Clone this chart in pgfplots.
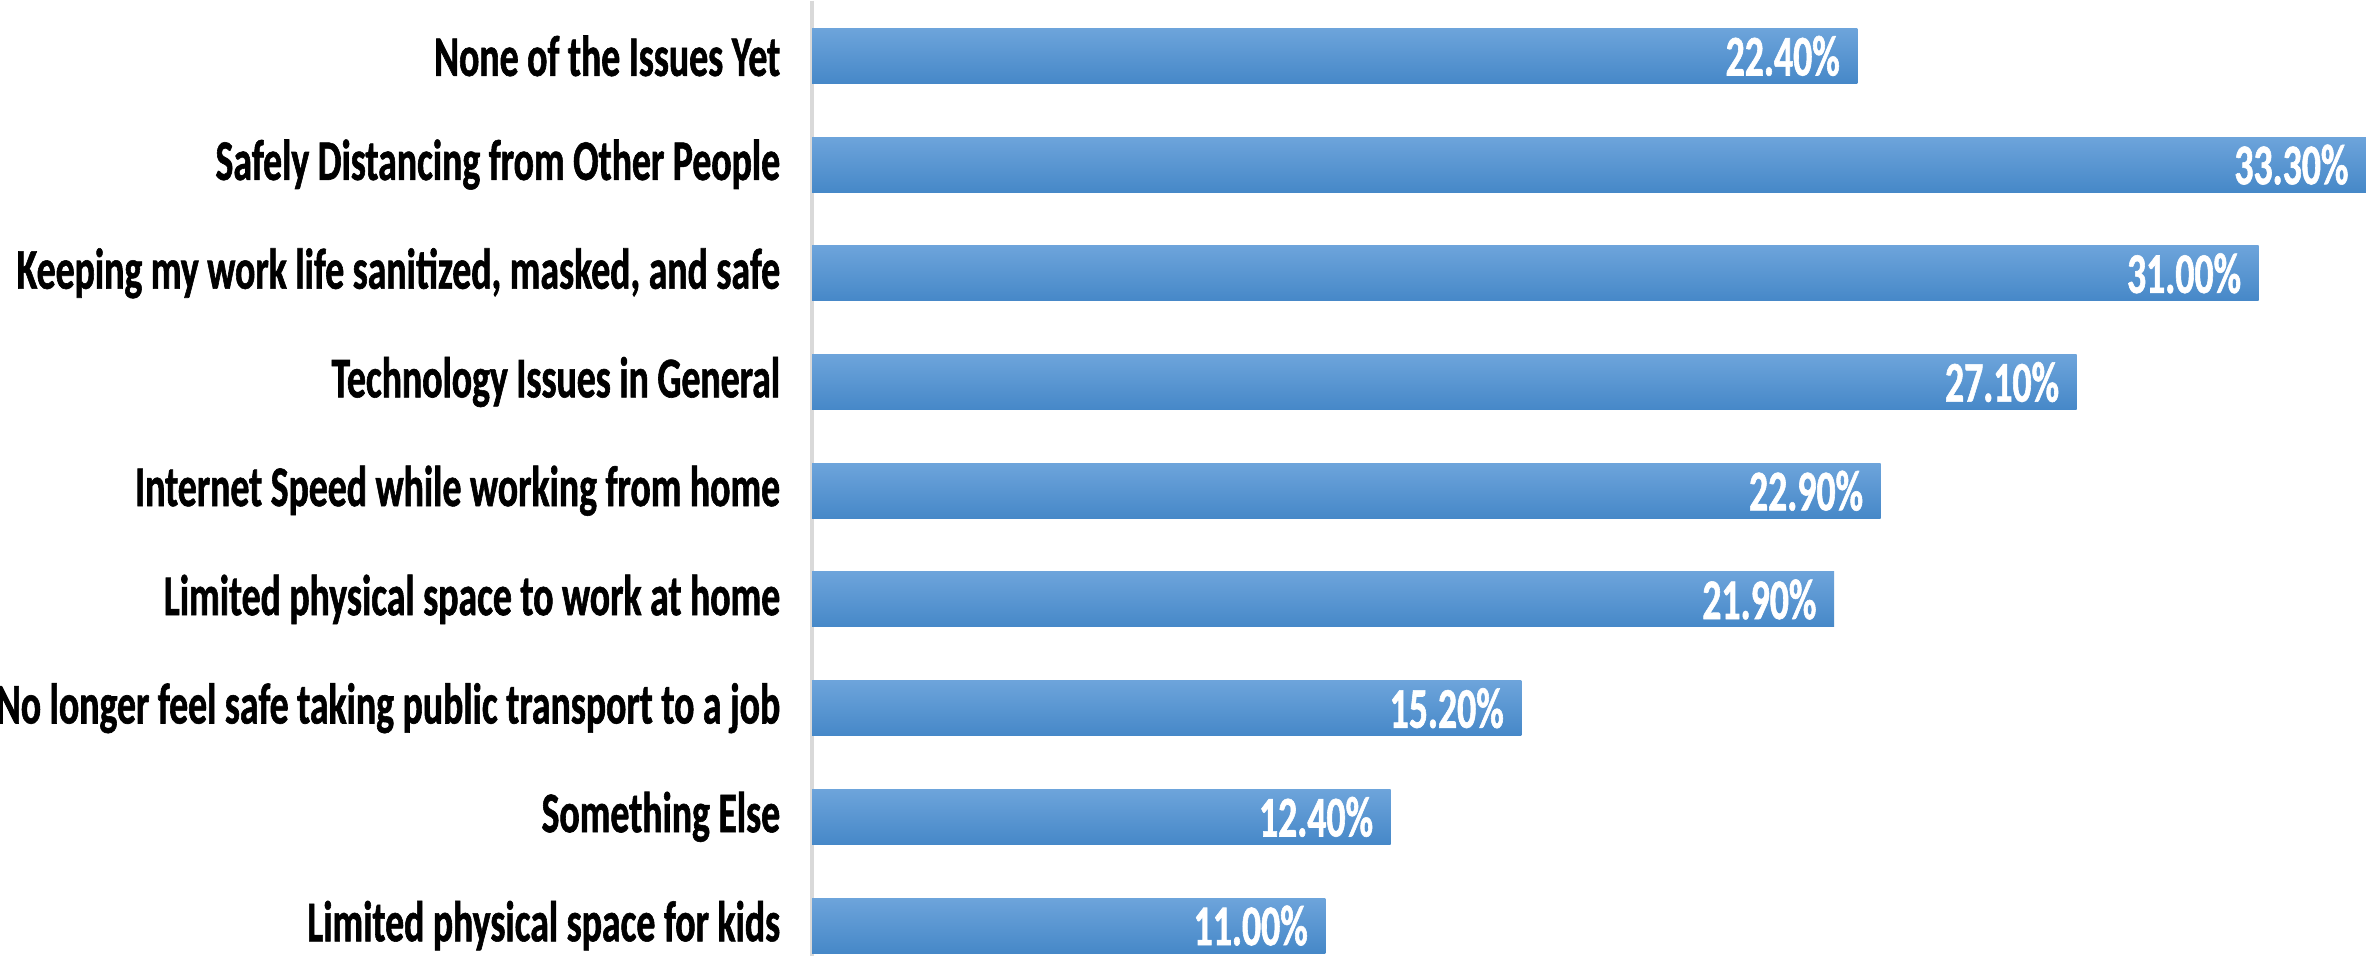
\documentclass[border=0pt]{standalone}
\usepackage{pgfplots}
\pgfplotsset{compat=1.18}
\usepackage{fontspec}
\setmainfont{Carlito}[FakeStretch=0.655, BoldFeatures={FakeBold=1}]
\definecolor{bartop}{HTML}{6DA4DB}
\definecolor{barmid}{HTML}{5A9BDB}
\definecolor{barbot}{HTML}{4688C8}
\definecolor{axgray}{HTML}{D9D9D9}
\pgfplotsset{mybar/.style={draw=none, top color=bartop, middle color=barmid, bottom color=barbot}}
\begin{document}
\begin{tikzpicture}
\begin{axis}[
  at={(203pt,0pt)}, anchor=south west,
  scale only axis,
  width=388.5pt, height=238.75pt,
  xmin=0, xmax=33.3,
  ymin=-0.505, ymax=8.28,
  y dir=reverse,
  xbar, bar width=0.506, bar shift=0pt,
  axis lines*=left,
  hide x axis,
  axis line style={draw=axgray, line width=1pt},
  y axis line style={-},
  ytick={0,1,2,3,4,5,6,7,8},
  yticklabels={None of the Issues Yet,Safely Distancing from Other People,{Keeping my work life sanitized, masked, and safe},Technology Issues in General,Internet Speed while working from home,Limited physical space to work at home,No longer feel safe taking public transport to a job,Something Else,Limited physical space for kids},
  ytick style={draw=none},
  yticklabel style={font=\fontsize{14.4}{17}\selectfont\bfseries, inner sep=0pt, xshift=-3.5pt},
  nodes near coords={\pgfmathprintnumber[fixed, fixed zerofill, precision=2, assume math mode=true]{\pgfplotspointmeta}\%},
  every node near coord/.append style={font=\fontsize{14.4}{17}\selectfont\bfseries, text=white, anchor=east, xshift=-4.2pt, inner sep=0pt},
  clip=false,
]
\addplot[mybar] coordinates {(22.4,0)};
\addplot[mybar] coordinates {(33.3,1)};
\addplot[mybar] coordinates {(31.0,2)};
\addplot[mybar] coordinates {(27.1,3)};
\addplot[mybar] coordinates {(22.9,4)};
\addplot[mybar] coordinates {(21.9,5)};
\addplot[mybar] coordinates {(15.2,6)};
\addplot[mybar] coordinates {(12.4,7)};
\addplot[mybar] coordinates {(11.0,8)};
\end{axis}
\pgfresetboundingbox
\path (0,0) rectangle (591.5pt,239pt);
\end{tikzpicture}
\end{document}
